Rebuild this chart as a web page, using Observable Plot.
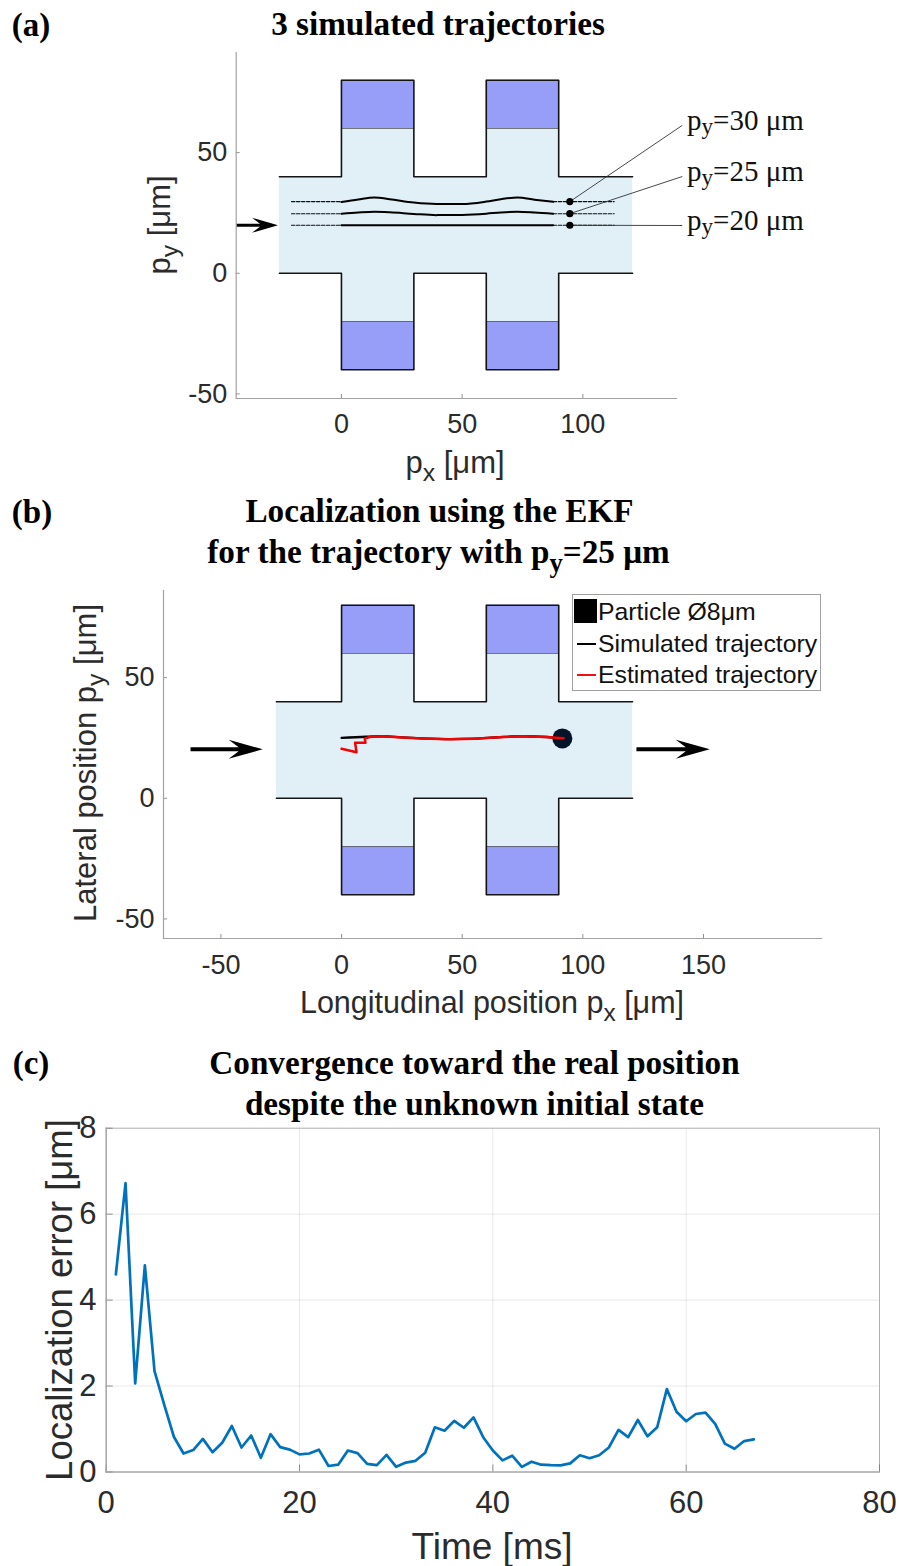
<!DOCTYPE html>
<html>
<head>
<meta charset="utf-8">
<script src="https://cdn.jsdelivr.net/npm/d3@7"></script>
<script src="https://cdn.jsdelivr.net/npm/@observablehq/plot@0.6"></script>
<style>
html,body{margin:0;padding:0;background:#fff;}
#page{position:relative;width:899px;height:1566px;overflow:hidden;background:#fff;}
#page svg{position:absolute;left:0;background:transparent;overflow:visible;}
.t{position:absolute;white-space:nowrap;line-height:1;}
.serif{font-family:"Liberation Serif",serif;font-weight:bold;color:#000;}
.plain{font-family:"Liberation Serif",serif;color:#111;font-size:29px;}
.sans{font-family:"Liberation Sans",sans-serif;color:#2b2b2b;}
sub{font-size:80%;line-height:0;vertical-align:-0.33em;}
.plain sub{vertical-align:-0.2em;}
.legend{position:absolute;left:572px;top:594px;width:247px;height:95px;border:1px solid #a0a0a0;background:#fff;
  font-family:"Liberation Sans",sans-serif;font-size:24.8px;color:#111;line-height:1;}
.legend div{position:absolute;white-space:nowrap;}
</style>
</head>
<body>
<div id="page"></div>
<script>
// ---------- data ----------
const wallTopX = [0,0,30,30,60,60,90,90];
const wallTopY = [40,80,80,40,40,80,80,40];
const wallBottomY = [0,-40,-40,0,0,-40,-40,0];
const armX = [[0,30],[60,90]];
const electrodeY = [[60,80],[-40,-20]];
const electrodeEdgeY = [60,-20];
const channelEndsA = [-25.7,120.6];
const channelEndsB = [-27,120.6];

// panel (a)
const trajX  = [0,7,13.7,20,30,39.3,50,60,66,72.9,80,87.7];
const traj30 = [29.5,30.6,31.4,30.7,29.3,28.7,28.7,29.7,30.7,31.4,30.5,29.6];
const traj25 = [24.7,25.2,25.5,25.3,24.6,24.1,24.2,24.7,25.2,25.5,25.2,24.7];
const traj20 = [19.9,19.9,19.9,19.9,19.9,19.9,19.9,19.9,19.9,19.9,19.9,19.9];
const dashX  = [[-20.7,0],[87.7,113]];
const startY = [29.7,24.7,19.9];
const dotX   = [94.6,94.6,94.6];
const dotY   = [29.7,24.7,19.9];
const calloutEndX = [141.2,141.2,141.2];
const calloutEndY = [61.3,40.1,19.8];

// panel (b)
const simX = [0,10,17,25,33,45,55,65,75,85,92];
const simY = [25,25.5,25.7,25.2,24.8,24.5,24.7,25.3,25.7,25.4,24.9];
const estX = [0,6.2,5.6,9.9,9.6,12,17,25,33,45,55,65,75,85,92];
const estY = [20.5,19.1,23,23,24.7,25.5,25.7,25.2,24.8,24.5,24.7,25.3,25.7,25.4,24.9];
const particle = [{x:91.5,y:24.8}];

// panel (c)
const errT = d3.range(1,68);
const errV = [4.6,6.72,2.06,4.81,2.35,1.57,0.82,0.43,0.51,0.77,0.46,0.68,1.07,0.57,0.85,0.33,0.88,0.58,0.52,0.41,
 0.43,0.52,0.14,0.17,0.50,0.44,0.19,0.16,0.40,0.12,0.22,0.26,0.45,1.04,0.96,1.19,1.03,1.27,0.81,0.50,
 0.27,0.38,0.12,0.24,0.17,0.16,0.155,0.20,0.39,0.32,0.39,0.57,0.98,0.81,1.21,0.83,1.04,1.93,1.40,1.18,
 1.35,1.38,1.12,0.66,0.54,0.72,0.76];

// ---------- helpers ----------
const page = document.getElementById("page");
const inkAxis = "#a2a2a2", inkTick = "#777", inkText = "#2b2b2b";
const lightBlue = "#e1eff7", darkBlue = "#969ef8", wallInk = "#141414";
function put(svg, top){ svg.style.top = top+"px"; page.appendChild(svg); }
function label(html, cls, x, y, extra){
  const d = document.createElement("div");
  d.className = "t "+cls;
  d.innerHTML = html;
  d.style.left = x+"px"; d.style.top = y+"px";
  d.style.transform = extra && extra.rot ? "translate(-50%,-50%) rotate(-90deg)" : (extra && extra.left ? "translate(0,-50%)" : "translate(-50%,-50%)");
  if (extra && extra.size) d.style.fontSize = extra.size+"px";
  page.appendChild(d);
}
// arrow outline in data units: shaft + notched head (sizes in px, k = px per unit)
function arrowShape(x0,x1,y,k,L,N,H,S){
  const d = x1>x0?1:-1;
  L/=k;N/=k;H/=k;S/=k;
  return [[x0,y-S],[x1-d*N,y-S],[x1-d*L,y-H],[x1,y],[x1-d*L,y+H],[x1-d*N,y+S],[x0,y+S]];
}
const pairs = (xs,ys)=>xs.map((x,i)=>({x,y:ys[i]}));
const walls = (ends,ys,edge)=>[{x:ends[0],y:edge},...pairs(wallTopX,ys),{x:ends[1],y:edge}];
function channelMarks(ends){
  const main = [{x1:ends[0],x2:ends[1],y1:0,y2:40}];
  const arms = armX.map(a=>({x1:a[0],x2:a[1],y1:-40,y2:80}));
  const pads = armX.flatMap(a=>electrodeY.map(e=>({x1:a[0],x2:a[1],y1:e[0],y2:e[1]})));
  const edges = armX.flatMap(a=>electrodeEdgeY.map(y=>({x1:a[0],x2:a[1],y})));
  return [
    Plot.rect(main,{x1:"x1",x2:"x2",y1:"y1",y2:"y2",fill:lightBlue}),
    Plot.rect(arms,{x1:"x1",x2:"x2",y1:"y1",y2:"y2",fill:lightBlue}),
    Plot.rect(pads,{x1:"x1",x2:"x2",y1:"y1",y2:"y2",fill:darkBlue}),
    Plot.link(edges,{x1:"x1",x2:"x2",y1:"y",y2:"y",stroke:"#555",strokeWidth:0.8}),
    Plot.line(walls(ends,wallTopY,40),{x:"x",y:"y",stroke:wallInk,strokeWidth:1.6}),
    Plot.line(walls(ends,wallBottomY,0),{x:"x",y:"y",stroke:wallInk,strokeWidth:1.6})
  ];
}
function axes(xt,yt,size,xp,yp,t){
  const fmt = d=>String(d);
  return [
    Plot.axisX({ticks:xt,tickFormat:fmt,tickSize:-t,tickPadding:xp,fontSize:size,label:null,stroke:inkTick,fill:inkText,strokeWidth:0.8}),
    Plot.axisY({ticks:yt,tickFormat:fmt,tickSize:-t,tickPadding:yp,fontSize:size,label:null,stroke:inkTick,fill:inkText,strokeWidth:0.8}),
    Plot.frame({anchor:"bottom",stroke:inkAxis,strokeWidth:1.2}),
    Plot.frame({anchor:"left",stroke:inkAxis,strokeWidth:1.2})
  ];
}
const polygon = pts=>Plot.line(pts,{x:d=>d[0],y:d=>d[1],fill:"#000",stroke:"none"});

// ---------- panel (a) ----------
const panelA = Plot.plot({
  width:899,height:480,marginTop:52,marginBottom:82,marginLeft:235.7,marginRight:223,
  x:{domain:[-43.6,138.8]},y:{domain:[-51.9,91.5]},
  style:{fontFamily:"Liberation Sans, sans-serif",background:"transparent"},
  marks:[
    ...channelMarks(channelEndsA),
    ...startY.map(y=>dashX.map(dx=>Plot.line(dx.map(x=>({x,y})),{x:"x",y:"y",stroke:"#111",strokeWidth:1.1,strokeDasharray:"3.5,1.5"}))).flat(),
    ...[traj30,traj25,traj20].map(ys=>Plot.line(pairs(trajX,ys),{x:"x",y:"y",stroke:"#000",strokeWidth:2,curve:"monotone-x"})),
    Plot.link(dotX,{x1:d=>d,y1:(d,i)=>dotY[i],x2:(d,i)=>calloutEndX[i],y2:(d,i)=>calloutEndY[i],stroke:"#333",strokeWidth:0.9}),
    Plot.dot(pairs(dotX,dotY),{x:"x",y:"y",r:3.6,fill:"#000"}),
    polygon(arrowShape(-43.6,-26.3,19.9,2.413,26,18,7.5,1.6)),
    ...axes([0,50,100],[-50,0,50],27,19,13,4)
  ]
});
put(panelA,0);

// ---------- panel (b) ----------
const panelB = Plot.plot({
  width:899,height:510,marginTop:90,marginBottom:72,marginLeft:163,marginRight:78,
  x:{domain:[-73.8,198.9]},y:{domain:[-58.1,86.1]},
  style:{fontFamily:"Liberation Sans, sans-serif",background:"transparent"},
  marks:[
    ...channelMarks(channelEndsB),
    polygon(arrowShape(-62.6,-32.7,20.3,2.414,34,24,9.5,2)),
    polygon(arrowShape(122.2,152.6,20.3,2.414,34,24,9.5,2)),
    Plot.dot(particle,{x:"x",y:"y",r:10,fill:"#051428"}),
    Plot.line(pairs(simX,simY),{x:"x",y:"y",stroke:"#000",strokeWidth:2.3,curve:"monotone-x"}),
    Plot.line(pairs(estX,estY),{x:"x",y:"y",stroke:"#ee0505",strokeWidth:2.5}),
    ...axes([-50,0,50,100,150],[-50,0,50],27,20,13,4)
  ]
});
put(panelB,500);

// ---------- panel (c) ----------
const panelC = Plot.plot({
  width:899,height:466,marginTop:27.7,marginBottom:94.5,marginLeft:105.7,marginRight:20,
  x:{domain:[0,80]},y:{domain:[0,8]},
  style:{fontFamily:"Liberation Sans, sans-serif",background:"transparent"},
  marks:[
    Plot.gridX({ticks:[20,40,60],stroke:"#000",strokeOpacity:0.09,strokeWidth:1}),
    Plot.gridY({ticks:[2,4,6],stroke:"#000",strokeOpacity:0.09,strokeWidth:1}),
    Plot.frame({stroke:"#b0b0b0",strokeWidth:1}),
    ...axes([0,20,40,60,80],[0,2,4,6,8],31,25.7,16.7,7),
    Plot.line(pairs(errT,errV),{x:"x",y:"y",stroke:"#0072BD",strokeWidth:2.7})
  ]
});
put(panelC,1100);

// ---------- text ----------
label("(a)","serif",31,25,{size:33});
label("(b)","serif",32,512,{size:33});
label("(c)","serif",31,1063,{size:33});
label("3 simulated trajectories","serif",438,24,{size:33.2});
label("Localization using the EKF","serif",439.5,511,{size:33.2});
label("for the trajectory with p<sub>y</sub>=25 μm","serif",438.5,552,{size:33.2});
label("Convergence toward the real position","serif",474.5,1063,{size:33.2});
label("despite the unknown initial state","serif",474.5,1104,{size:33.2});

label("p<sub>y</sub>=30 μm","plain",687,120,{left:true});
label("p<sub>y</sub>=25 μm","plain",687,171,{left:true});
label("p<sub>y</sub>=20 μm","plain",687,220,{left:true});

label("p<sub>x</sub> [μm]","sans",455,462,{size:31});
label("p<sub>y</sub> [μm]","sans",159,225,{size:31,rot:true});
label("Longitudinal position p<sub>x</sub> [μm]","sans",492,1002,{size:30.5});
label("Lateral position p<sub>y</sub> [μm]","sans",85,763,{size:31,rot:true});
label("Time [ms]","sans",492,1546,{size:37});
label("Localization error [μm]","sans",60,1300,{size:36.5,rot:true});

const lg = document.createElement("div");
lg.className = "legend";
lg.innerHTML = `
 <div style="left:1px;top:4px;width:23px;height:24px;background:#000"></div>
 <div style="left:25px;top:5px">Particle Ø8μm</div>
 <div style="left:4px;top:48px;width:19px;height:2px;background:#000"></div>
 <div style="left:25px;top:37px">Simulated trajectory</div>
 <div style="left:4px;top:79px;width:19px;height:2px;background:#f01010"></div>
 <div style="left:25px;top:68px">Estimated trajectory</div>`;
page.appendChild(lg);
</script>
</body>
</html>
